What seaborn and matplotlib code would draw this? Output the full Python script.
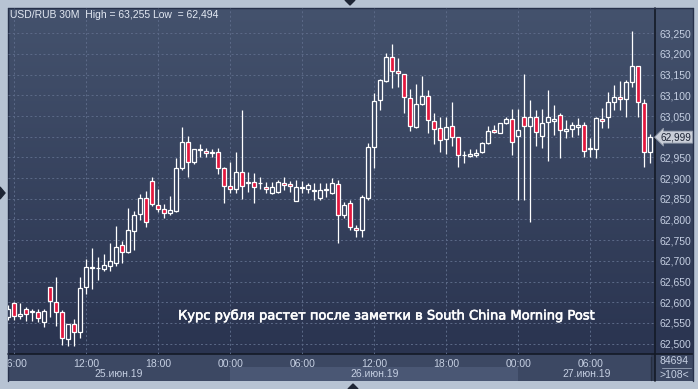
import numpy as np
import pandas as pd
import seaborn as sns
import matplotlib
matplotlib.use("Agg")
import matplotlib.pyplot as plt
import matplotlib.patheffects as pe
from matplotlib.patches import Rectangle, Polygon
from matplotlib.transforms import Bbox

sns.set_theme(style="dark")
plt.rcParams['font.family'] = ['Liberation Sans', 'DejaVu Sans']

# ---------------- data (USD/RUB, 30-minute bars) ----------------
bar_index = list(range(-1, 107))
open_ = [62.564, 62.598, 62.567, 62.583, 62.576, 62.576, 62.552, 62.636, 62.600, 62.576,
         62.511, 62.547, 62.528, 62.636, 62.682, 62.682, 62.680, 62.687, 62.694, 62.738,
         62.721, 62.772, 62.813, 62.851, 62.892, 62.834, 62.825, 62.815, 62.820, 62.924,
         62.987, 62.938, 62.967, 62.965, 62.963, 62.962, 62.924, 62.880, 62.873, 62.914,
         62.889, 62.890, 62.887, 62.878, 62.863, 62.866, 62.888, 62.885, 62.844, 62.877,
         62.873, 62.870, 62.851, 62.872, 62.863, 62.885, 62.810, 62.839, 62.779, 62.774,
         62.851, 62.975, 63.088, 63.134, 63.192, 63.158, 63.151, 63.093, 63.023, 63.078,
         63.098, 63.037, 63.020, 62.994, 63.025, 62.999, 62.955, 62.953, 62.955, 62.962,
         62.984, 63.016, 63.008, 63.033, 63.042, 63.001, 63.047, 63.025, 63.047, 63.001,
         63.035, 63.037, 63.052, 63.013, 63.018, 63.023, 63.028, 62.970, 62.970, 63.042,
         63.047, 63.083, 63.095, 63.091, 63.132, 63.170, 63.081, 62.962]
high = [62.593, 62.600, 62.598, 62.588, 62.583, 62.583, 62.583, 62.636, 62.660, 62.581,
        62.547, 62.559, 62.660, 62.704, 62.731, 62.709, 62.716, 62.743, 62.784, 62.747,
        62.827, 62.820, 62.861, 62.868, 62.902, 62.873, 62.837, 62.856, 62.948, 63.023,
        63.001, 62.970, 62.982, 62.972, 62.970, 62.972, 62.926, 62.938, 62.962, 63.064,
        62.914, 62.912, 62.902, 62.890, 62.890, 62.895, 62.902, 62.892, 62.895, 62.892,
        62.888, 62.888, 62.888, 62.888, 62.900, 62.895, 62.842, 62.847, 62.786, 62.858,
        62.984, 63.105, 63.140, 63.202, 63.223, 63.190, 63.151, 63.115, 63.127, 63.146,
        63.112, 63.057, 63.047, 63.047, 63.083, 62.999, 62.965, 62.970, 62.970, 62.987,
        63.025, 63.028, 63.033, 63.047, 63.066, 63.066, 63.151, 63.088, 63.064, 63.066,
        63.112, 63.076, 63.057, 63.040, 63.035, 63.045, 63.035, 62.996, 63.047, 63.069,
        63.107, 63.124, 63.134, 63.136, 63.255, 63.170, 63.091, 63.006]
low = [62.557, 62.557, 62.559, 62.554, 62.554, 62.552, 62.540, 62.564, 62.542, 62.496,
       62.494, 62.494, 62.513, 62.619, 62.631, 62.653, 62.675, 62.675, 62.687, 62.694,
       62.718, 62.726, 62.798, 62.781, 62.832, 62.818, 62.803, 62.810, 62.818, 62.919,
       62.902, 62.934, 62.950, 62.950, 62.950, 62.909, 62.839, 62.863, 62.863, 62.849,
       62.866, 62.839, 62.873, 62.863, 62.862, 62.864, 62.871, 62.866, 62.844, 62.863,
       62.863, 62.847, 62.847, 62.854, 62.862, 62.743, 62.803, 62.774, 62.757, 62.757,
       62.847, 62.924, 63.064, 63.132, 63.117, 63.120, 63.057, 63.013, 63.020, 63.076,
       63.008, 62.982, 62.962, 62.958, 62.977, 62.926, 62.936, 62.950, 62.950, 62.960,
       62.982, 63.008, 63.008, 63.030, 62.955, 62.847, 62.847, 62.793, 62.977, 62.972,
       62.941, 63.004, 62.948, 62.996, 62.999, 63.004, 62.950, 62.950, 62.948, 63.020,
       63.020, 63.064, 63.064, 63.047, 63.120, 63.047, 62.926, 62.936]
close = [62.583, 62.567, 62.571, 62.571, 62.578, 62.561, 62.578, 62.603, 62.576, 62.513,
         62.547, 62.528, 62.634, 62.685, 62.685, 62.683, 62.689, 62.699, 62.733, 62.721,
         62.774, 62.810, 62.851, 62.793, 62.837, 62.825, 62.815, 62.822, 62.924, 62.987,
         62.938, 62.970, 62.970, 62.960, 62.960, 62.924, 62.880, 62.873, 62.914, 62.880,
         62.890, 62.878, 62.888, 62.873, 62.878, 62.890, 62.883, 62.880, 62.878, 62.878,
         62.883, 62.871, 62.871, 62.873, 62.888, 62.810, 62.834, 62.781, 62.774, 62.854,
         62.975, 63.086, 63.136, 63.192, 63.158, 63.153, 63.095, 63.025, 63.078, 63.098,
         63.040, 63.018, 62.991, 63.023, 62.999, 62.955, 62.956, 62.958, 62.960, 62.984,
         63.013, 63.011, 63.033, 63.042, 62.987, 63.016, 63.025, 63.047, 63.011, 63.033,
         63.047, 63.042, 63.016, 63.018, 63.028, 63.028, 62.965, 62.972, 63.045, 63.037,
         63.083, 63.095, 63.091, 63.132, 63.170, 63.083, 62.962, 62.999]

first_bar_hour = 6.0          # 25 June 06:00
bar_hours = 0.5               # 30-minute bars
tick_hours = [6, 12, 18, 24, 30, 36, 42, 48, 54]
tick_labels = ["06:00", "12:00", "18:00", "00:00", "06:00", "12:00", "18:00", "00:00", "06:00"]
date_labels = ["25.июн.19", "26.июн.19", "27.июн.19"]
date_starts = [0, 24, 48]
price_ticks = [62.50, 62.55, 62.60, 62.65, 62.70, 62.75, 62.80, 62.85, 62.90, 62.95,
               63.00, 63.05, 63.10, 63.15, 63.20, 63.25]
title_text = "USD/RUB 30M  High = 63,255 Low  = 62,494"
note_text = "Курс рубля растет после заметки в South China Morning Post"
footer_top = "84694"
footer_bottom = ">108<"

df = pd.DataFrame({"t": first_bar_hour + bar_hours * np.array(bar_index),
                   "o": open_, "h": high, "l": low, "c": close})

# ---------------- layout ----------------
W, H = 698, 389
fig = plt.figure(figsize=(W / 100, H / 100), dpi=100)
fig.patch.set_facecolor("#b7c3d3")

top_col = np.array([68, 82, 109]) / 255
bot_col = np.array([42, 52, 80]) / 255

bg = fig.add_axes([0, 0, 1, 1])
bg.axis("off")
grad = np.linspace(0, 1, 256)[:, None, None]
img = top_col * (1 - grad) + bot_col * grad
bg.imshow(img, extent=(8, 693, 354, 8), aspect="auto", interpolation="bilinear", zorder=0)
bg.add_patch(Rectangle((8, 354), 685, 27, facecolor="#3c4863", edgecolor="none", zorder=1))
bg.add_patch(Rectangle((651, 354), 4, 27, facecolor="#323d55", edgecolor="none", zorder=1))
dark = "#141a26"
bg.plot([655, 655], [8, 381], color=dark, lw=1.2, zorder=3)
bg.plot([8, 693], [354, 354], color=dark, lw=1.2, zorder=3)
bg.plot([8, 693], [8, 8], color="#26304a", lw=1.0, zorder=3)
bg.plot([8, 8], [8, 381], color="#26304a", lw=1.0, zorder=3)
bg.plot([693, 693], [8, 381], color="#26304a", lw=1.0, zorder=3)
bg.plot([651, 651], [357, 380], color="#262e40", lw=1.0, zorder=3)
bg.plot([662, 691], [368, 368], color="#8c98ad", lw=0.7, zorder=3)
bg.text(674, 361.5, footer_top, ha="center", va="center", fontsize=7.5, color="#c8d2e4", zorder=4)
bg.text(674, 374.5, footer_bottom, ha="center", va="center", fontsize=7.5, color="#c8d2e4", zorder=4)
tri = "#1e2535"
bg.add_patch(Polygon([(345, 0), (355, 0), (350, 5)], closed=True, color=tri, zorder=4))
bg.add_patch(Polygon([(0, 187), (0, 199), (5, 193)], closed=True, color=tri, zorder=4))
bg.add_patch(Polygon([(348, 389), (358, 389), (353, 384)], closed=True, color=tri, zorder=4))
bg.set_xlim(0, W)
bg.set_ylim(H, 0)

ax = fig.add_axes([8 / W, 1 - 354 / H, 647 / W, 346 / H])
ax.set_zorder(2)
ax.patch.set_alpha(0)
x0, x1 = 5.475, 59.39
y0, y1 = 62.475, 63.311
ax.set_xlim(x0, x1)
ax.set_ylim(y0, y1)
for s in ax.spines.values():
    s.set_visible(False)

ax.set_yticks(price_ticks)
ax.set_yticklabels(["" if abs(p - 63.0) < 1e-6 else f"{p:.3f}".replace(".", ",") for p in price_ticks])
ax.yaxis.tick_right()
ax.tick_params(axis="y", length=0, pad=3, labelsize=7.5, labelcolor="#c5cfe2")
ax.set_xticks(tick_hours)
ax.set_xticklabels(tick_labels)
ax.tick_params(axis="x", length=0, pad=3.5, labelsize=7.5, labelcolor="#c5cfe2")
ax.grid(True, color="#5c6a88", linestyle=(0, (2, 2.5)), linewidth=0.7)
ax.set_axisbelow(True)

clip = Bbox([[8, 0], [651, H]])
for tk in ax.xaxis.get_major_ticks():
    tk.label1.set_clip_box(clip)
    tk.label1.set_clip_on(True)

# day bands in the date row
for lbl, st in zip(date_labels, date_starts):
    a, b = max(st, x0), min(st + 24, x1)
    if st == 24:
        ax.axvspan(a, b, ymin=(354 - 381) / 346, ymax=(354 - 367) / 346,
                   color="#4a5774", lw=0, clip_on=False, zorder=0)
    ax.text((a + b) / 2, (354 - 374) / 346, lbl, transform=ax.get_xaxis_transform(),
            ha="center", va="center", fontsize=7.5, color="#c5cfe2", clip_on=False)

# candles
def bg_color(p):
    frac = (y1 - p) / (y1 - y0)
    return tuple(top_col * (1 - frac) + bot_col * frac)

up = df["c"] >= df["o"]
faces = [bg_color((o + c) / 2) if u else "#e3173e" for o, c, u in zip(df["o"], df["c"], up)]
ax.vlines(df["t"], df["l"], df["h"], colors="white", linewidth=0.9, zorder=3)
ax.bar(df["t"], (df["c"] - df["o"]).abs(), bottom=df[["o", "c"]].min(axis=1), width=0.34,
       color=faces, edgecolor="white", linewidth=0.9, zorder=4)

# last price tag
last = df["c"].iloc[-1]
ax.text(1.009, last, f"{last:.3f}".replace(".", ","), transform=ax.get_yaxis_transform(),
        ha="left", va="center", fontsize=7.2, color="#1b2233", clip_on=False, zorder=10,
        bbox=dict(boxstyle="larrow,pad=0.1", fc="#c9ced8", ec="#8e97a8", lw=0.6))

fig.text(10 / W, 1 - 14.5 / H, title_text, fontsize=7.5, color="#e3e9f3", va="center", ha="left")
fig.text(178 / W, 1 - 316 / H, note_text, fontsize=9.4, color="white", va="center", ha="left",
         family=["DejaVu Sans"],
         path_effects=[pe.withStroke(linewidth=0.4, foreground="white")])

fig.savefig("out.png", dpi=100)
